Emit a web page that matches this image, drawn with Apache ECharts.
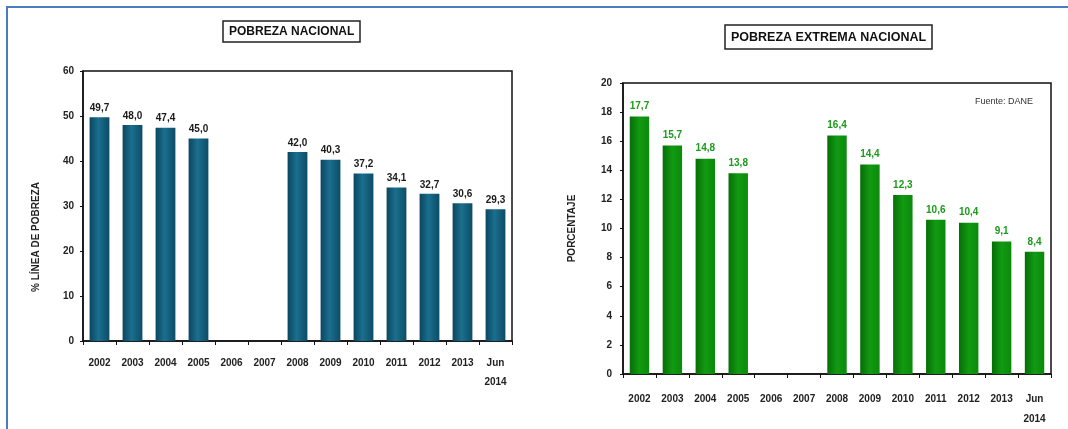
<!DOCTYPE html>
<html>
<head>
<meta charset="utf-8">
<script src="https://cdn.jsdelivr.net/npm/echarts@6/dist/echarts.min.js"></script>
<style>
html,body{margin:0;padding:0;background:#fff;}
#frame{position:absolute;left:6px;top:6px;width:1062px;height:423px;border-top:2px solid #4a7cc2;border-left:2px solid #4a7cc2;box-sizing:border-box;}
#chart{position:absolute;left:0;top:0;width:1068px;height:429px;}
</style>
</head>
<body>
<div id="frame"></div>
<div id="chart"></div>
<script>
const categories = ['2002','2003','2004','2005','2006','2007','2008','2009','2010','2011','2012','2013','Jun\n2014'];
const pobrezaNacional = [49.7, 48.0, 47.4, 45.0, null, null, 42.0, 40.3, 37.2, 34.1, 32.7, 30.6, 29.3];
const pobrezaExtrema = [17.7, 15.7, 14.8, 13.8, null, null, 16.4, 14.4, 12.3, 10.6, 10.4, 9.1, 8.4];
const leftTicks = {min: 0, max: 60, interval: 10};
const rightTicks = {min: 0, max: 20, interval: 2};

const FONT = '"Liberation Sans",Arial,sans-serif';
const fmt = v => (v == null ? '' : v.toFixed(1).replace('.', ','));

const chart = echarts.init(document.getElementById('chart'), null, {renderer: 'canvas'});

const axisLabel = {fontFamily: FONT, fontSize: 10, fontWeight: 'bold', color: '#222'};

chart.setOption({
  backgroundColor: 'transparent',
  animation: false,
  title: [
    {text: 'POBREZA NACIONAL', left: 223, top: 21, borderColor: '#222', borderWidth: 1.5,
     padding: [5, 6, 4, 6],
     textStyle: {fontFamily: FONT, fontSize: 12, fontWeight: 'bold', color: '#111'}},
    {text: 'POBREZA EXTREMA NACIONAL', left: 725, top: 25, borderColor: '#222', borderWidth: 1.5,
     padding: [6, 6, 5, 6],
     textStyle: {fontFamily: FONT, fontSize: 12.5, fontWeight: 'bold', color: '#111'}},
    {text: 'Fuente: DANE', left: 970, top: 92,
     textStyle: {fontFamily: FONT, fontSize: 9, fontWeight: 'normal', color: '#333'}}
  ],
  grid: [
    {left: 83, right: 556, top: 71, bottom: 88, show: true, borderColor: '#111', borderWidth: 1.5, backgroundColor: 'transparent'},
    {left: 623, right: 17, top: 83, bottom: 51, show: true, borderColor: '#111', borderWidth: 1.5, backgroundColor: 'transparent'}
  ],
  xAxis: [
    {type: 'category', gridIndex: 0, data: categories,
     axisLine: {lineStyle: {color: '#111', width: 1.5}},
     axisTick: {show: true, length: 4, lineStyle: {color: '#111'}},
     axisLabel: Object.assign({margin: 13, interval: 0, lineHeight: 19}, axisLabel)},
    {type: 'category', gridIndex: 1, data: categories,
     axisLine: {lineStyle: {color: '#111', width: 1.5}},
     axisTick: {show: true, length: 4, lineStyle: {color: '#111'}},
     axisLabel: Object.assign({margin: 15, interval: 0, lineHeight: 20}, axisLabel)}
  ],
  yAxis: [
    {type: 'value', gridIndex: 0, min: leftTicks.min, max: leftTicks.max, interval: leftTicks.interval,
     name: '% LÍNEA DE POBREZA', nameLocation: 'middle', nameGap: 42, nameRotate: 90,
     nameTextStyle: {fontFamily: FONT, fontSize: 10, fontWeight: 'bold', color: '#222', padding: [0, 62, 0, 0]},
     axisLine: {show: true, lineStyle: {color: '#111', width: 1.5}},
     axisTick: {show: true, length: 3, lineStyle: {color: '#111'}},
     splitLine: {show: false},
     axisLabel: Object.assign({margin: 9}, axisLabel)},
    {type: 'value', gridIndex: 1, min: rightTicks.min, max: rightTicks.max, interval: rightTicks.interval,
     name: 'PORCENTAJE', nameLocation: 'middle', nameGap: 46, nameRotate: 90,
     nameTextStyle: {fontFamily: FONT, fontSize: 10, fontWeight: 'bold', color: '#222'},
     axisLine: {show: true, lineStyle: {color: '#111', width: 1.5}},
     axisTick: {show: true, length: 3, lineStyle: {color: '#111'}},
     splitLine: {show: false},
     axisLabel: Object.assign({margin: 11}, axisLabel)}
  ],
  series: [
    {type: 'bar', xAxisIndex: 0, yAxisIndex: 0, data: pobrezaNacional, barWidth: '60%',
     itemStyle: {color: new echarts.graphic.LinearGradient(0, 0, 1, 0, [
       {offset: 0, color: '#0b4660'}, {offset: 0.45, color: '#1a6f8e'}, {offset: 1, color: '#0d4c66'}])},
     label: {show: true, position: 'top', distance: 4, formatter: p => fmt(p.value),
       fontFamily: FONT, fontSize: 10, fontWeight: 'bold', color: '#1a1a1a'}},
    {type: 'bar', xAxisIndex: 1, yAxisIndex: 1, data: pobrezaExtrema, barWidth: '59%',
     itemStyle: {color: new echarts.graphic.LinearGradient(0, 0, 1, 0, [
       {offset: 0, color: '#066e06'}, {offset: 0.5, color: '#129a12'}, {offset: 1, color: '#0b8a0b'}])},
     label: {show: true, position: 'top', distance: 5, formatter: p => fmt(p.value),
       fontFamily: FONT, fontSize: 10, fontWeight: 'bold', color: '#1c9a1c'}}
  ]
});
</script>
</body>
</html>
